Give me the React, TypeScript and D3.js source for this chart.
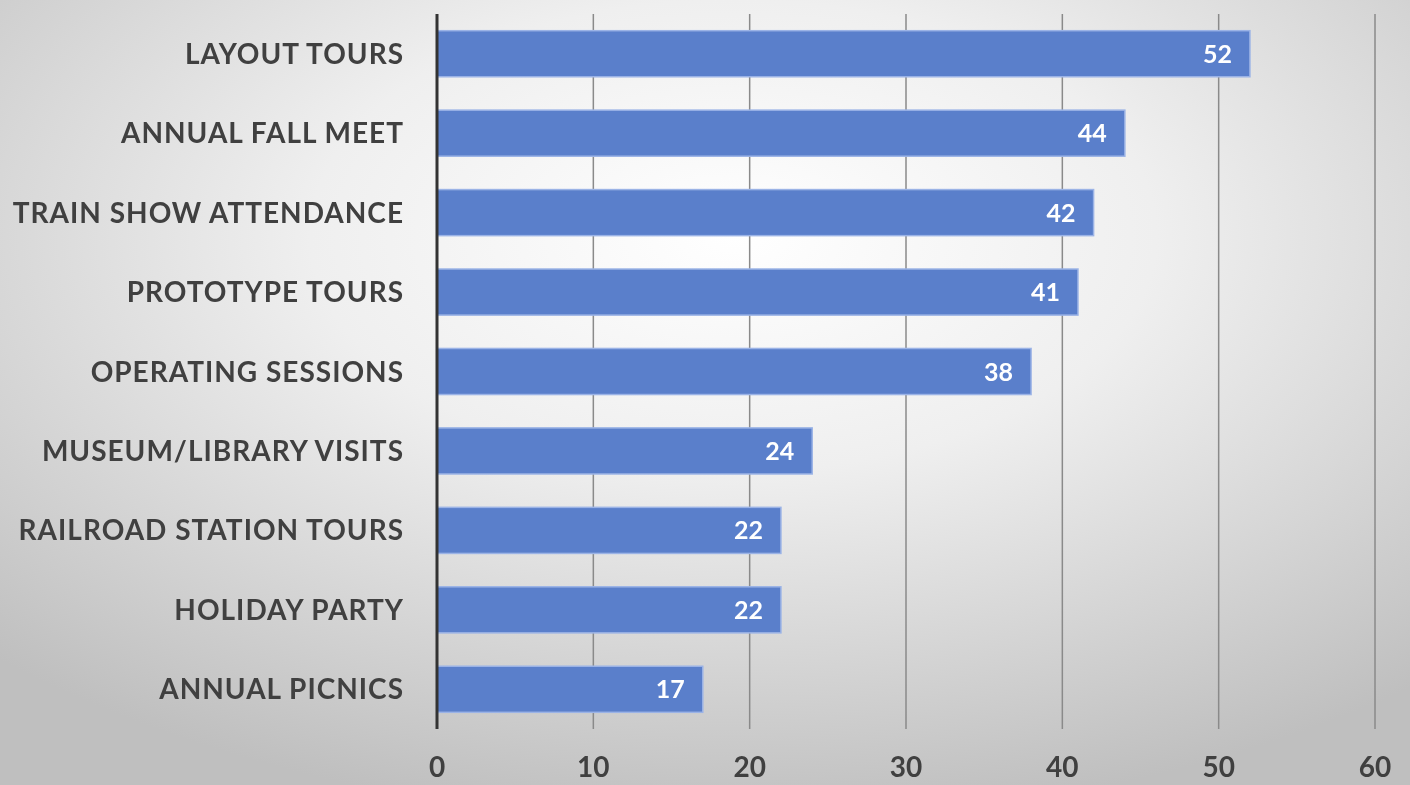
import React from "react";
import * as d3 from "d3";

const categories = [
  "LAYOUT TOURS",
  "ANNUAL FALL MEET",
  "TRAIN SHOW ATTENDANCE",
  "PROTOTYPE TOURS",
  "OPERATING SESSIONS",
  "MUSEUM/LIBRARY VISITS",
  "RAILROAD STATION TOURS",
  "HOLIDAY PARTY",
  "ANNUAL PICNICS",
];
const values = [52, 44, 42, 41, 38, 24, 22, 22, 17];
const xTicks = [0, 10, 20, 30, 40, 50, 60];

const W = 1410;
const H = 785;
const FONT = "Lato, 'Open Sans', sans-serif";

export default function App() {
  const x = d3.scaleLinear().domain([0, 60]).range([437, 1375]);
  const y = d3.scaleBand<string>().domain(categories).range([14, 729]).paddingInner(0.42).paddingOuter(0.21);

  return (
    <div style={{ position: "fixed", left: 0, top: 0, width: W, height: H }}>
      <svg width={W} height={H} style={{ display: "block" }}>
        <defs>
          <radialGradient id="bg" cx="0.52" cy="0.3" r="0.75" gradientUnits="objectBoundingBox">
            <stop offset="0" stopColor="#ffffff" />
            <stop offset="0.4" stopColor="#efefef" />
            <stop offset="1" stopColor="#bfbfbf" />
          </radialGradient>
        </defs>
        <rect x={0} y={0} width={W} height={H} fill="url(#bg)" />
        {xTicks.slice(1).map((t) => (
          <line key={t} x1={x(t)} x2={x(t)} y1={14} y2={729} stroke="#8a8a8a" strokeWidth={1.5} />
        ))}
        {categories.map((c, i) => (
          <g key={c}>
            <rect
              x={x(0)}
              y={y(c)}
              width={x(values[i]) - x(0)}
              height={y.bandwidth()}
              fill="#5a7fcb"
              stroke="#9bb3e6"
              strokeWidth={1.5}
            />
            <text
              x={x(values[i]) - 18}
              y={(y(c) as number) + y.bandwidth() / 2}
              dy="0.36em"
              textAnchor="end"
              fill="#ffffff"
              fontFamily={FONT}
              fontWeight={700}
              fontSize={25}
            >
              {values[i]}
            </text>
            <text
              x={404}
              y={(y(c) as number) + y.bandwidth() / 2}
              dy="0.36em"
              textAnchor="end"
              fill="#404040"
              fontFamily={FONT}
              fontWeight={700}
              fontSize={28}
              letterSpacing={1}
            >
              {c}
            </text>
          </g>
        ))}
        <line x1={x(0)} x2={x(0)} y1={14} y2={729} stroke="#333333" strokeWidth={3} />
        {xTicks.map((t) => (
          <text
            key={t}
            x={x(t)}
            y={777}
            textAnchor="middle"
            fill="#404040"
            fontFamily={FONT}
            fontWeight={700}
            fontSize={28}
          >
            {t}
          </text>
        ))}
      </svg>
    </div>
  );
}
